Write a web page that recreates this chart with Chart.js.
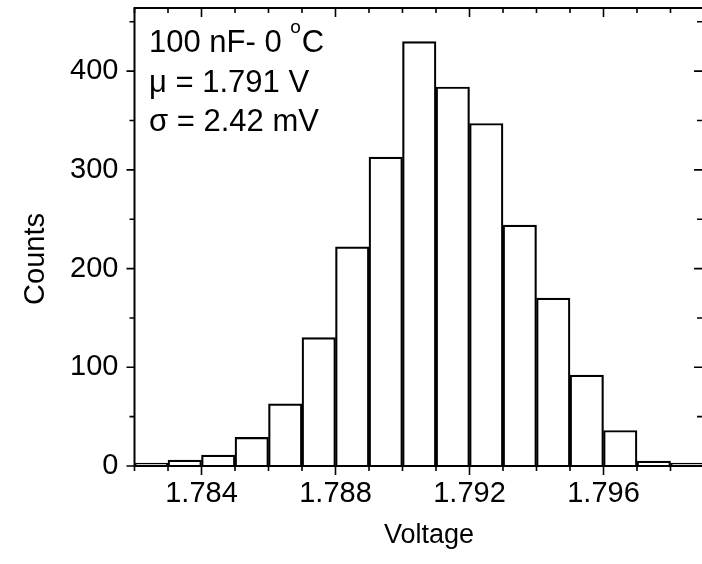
<!DOCTYPE html>
<html>
<head>
<meta charset="utf-8">
<script src="https://cdn.jsdelivr.net/npm/chart.js@4/dist/chart.umd.min.js"></script>
<style>
  html, body { margin: 0; padding: 0; background: #fff; overflow: hidden; }
  #wrap { width: 706px; height: 564px; }
</style>
</head>
<body>
<div id="wrap"><canvas id="histChart" width="706" height="564"></canvas></div>
<script>
// histogram bins (centre voltage, V) and counts
var binCenters = [1.7825, 1.7835, 1.7845, 1.7855, 1.7865, 1.7875, 1.7885, 1.7895, 1.7905,
                  1.7915, 1.7925, 1.7935, 1.7945, 1.7955, 1.7965, 1.7975, 1.7985];
var counts = [3, 6, 11, 29, 63, 130, 222, 313, 430, 384, 347, 244, 170, 92, 36, 5, 3];

var xTickValues = [1.784, 1.788, 1.792, 1.796];
var yTickValues = [0, 100, 200, 300, 400];
var xRange = [1.782, 1.799];
var yRange = [0, 464];
var xMinorStep = 0.001;
var yMinorStep = 50;

var infoTitle = '100 nF- 0 ';
var infoUnit = 'C';
var infoLines = ['\u03bc = 1.791 V', '\u03c3 = 2.42 mV'];

var FONT = '"Liberation Sans", Arial, sans-serif';
var FS = 29;

// frame, ticks on all four sides, titles and the text box
var framePlugin = {
  id: 'frame',
  afterDatasetsDraw: function(chart) {
    var c = chart.ctx, a = chart.chartArea;
    var xs = chart.scales.x, ys = chart.scales.y;
    c.save();
    c.strokeStyle = '#000';
    c.lineWidth = 2;
    c.strokeRect(a.left, a.top, a.right - a.left, a.bottom - a.top);

    c.lineWidth = 1.6;
    c.beginPath();
    // x ticks: bottom outward, top inward
    for (var v = xRange[0]; v <= xRange[1] + 1e-9; v += xMinorStep) {
      var px = xs.getPixelForValue(v);
      var major = xTickValues.some(function(t) { return Math.abs(t - v) < 1e-7; });
      var len = major ? 9 : 5;
      c.moveTo(px, a.bottom); c.lineTo(px, a.bottom + len);
      c.moveTo(px, a.top); c.lineTo(px, a.top + len);
    }
    // y ticks: left outward, right inward
    for (var w = yRange[0]; w <= yRange[1]; w += yMinorStep) {
      var py = ys.getPixelForValue(w);
      var majorY = yTickValues.indexOf(w) >= 0;
      var l2 = majorY ? 8 : 5;
      c.moveTo(a.left, py); c.lineTo(a.left - l2, py);
      c.moveTo(a.right, py); c.lineTo(a.right - l2 - 2, py);
    }
    c.stroke();

    c.fillStyle = '#000';
    c.textBaseline = 'alphabetic';
    c.textAlign = 'left';
    c.font = '31px ' + FONT;
    c.fillText(infoTitle, 149, 52);
    var wTitle = c.measureText(infoTitle).width;
    c.font = '19px ' + FONT;
    c.fillText('o', 149 + wTitle, 33);
    var wo = c.measureText('o').width;
    c.font = '31px ' + FONT;
    c.fillText(infoUnit, 149 + wTitle + wo + 1, 52);
    c.fillText(infoLines[0], 149, 92);
    c.fillText(infoLines[1], 149, 131);

    // axis titles
    c.textAlign = 'center';
    c.font = '27px ' + FONT;
    c.fillText('Voltage', 429, 543);
    c.font = FS + 'px ' + FONT;
    c.translate(44, 259);
    c.rotate(-Math.PI / 2);
    c.fillText('Counts', 0, 0);
    c.restore();
  }
};

var ctx = document.getElementById('histChart');
new Chart(ctx, {
  type: 'bar',
  data: {
    datasets: [{
      data: binCenters.map(function(x, i) { return { x: x, y: counts[i] }; }),
      backgroundColor: '#fff',
      borderColor: '#000',
      borderWidth: 2.2,
      borderSkipped: 'bottom',
      barPercentage: 1,
      categoryPercentage: 1
    }]
  },
  options: {
    responsive: false,
    animation: false,
    layout: { padding: { top: 8, right: 2, left: 0, bottom: 0 } },
    plugins: { legend: { display: false }, tooltip: { enabled: false } },
    scales: {
      x: {
        type: 'linear',
        offset: false,
        min: xRange[0],
        max: xRange[1],
        grid: { display: false, drawTicks: false, offset: false },
        border: { display: false },
        afterBuildTicks: function(s) { s.ticks = xTickValues.map(function(v) { return { value: v }; }); },
        afterFit: function(s) { s.height = 98; s.paddingLeft = 0; s.paddingRight = 0; },
        ticks: {
          color: '#000',
          font: { family: FONT, size: FS },
          padding: 11,
          maxRotation: 0,
          callback: function(v) { return v.toFixed(3); }
        }
      },
      y: {
        min: yRange[0],
        max: yRange[1],
        grid: { display: false, drawTicks: false },
        border: { display: false },
        afterBuildTicks: function(s) { s.ticks = yTickValues.map(function(v) { return { value: v }; }); },
        afterFit: function(s) { s.width = 134.5; s.paddingTop = 0; s.paddingBottom = 0; },
        ticks: {
          color: '#000',
          font: { family: FONT, size: FS },
          padding: 16
        }
      }
    }
  },
  plugins: [framePlugin]
});
</script>
</body>
</html>
